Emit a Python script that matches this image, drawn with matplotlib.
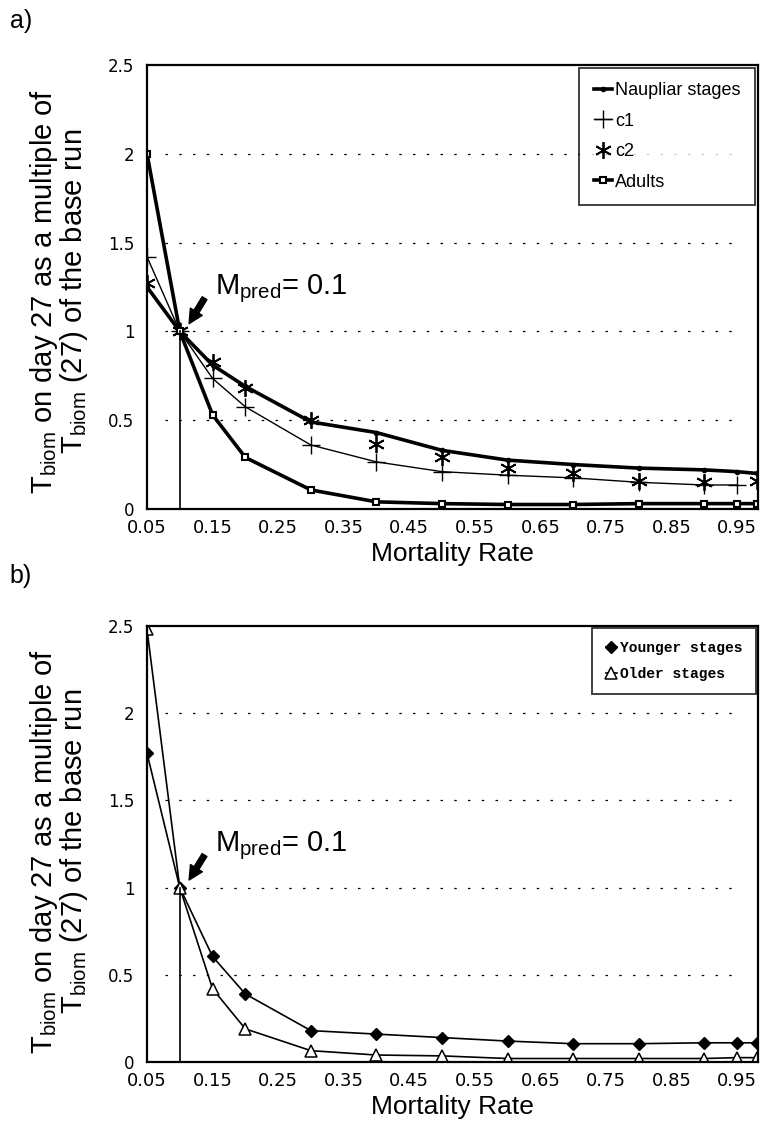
import numpy as np
import matplotlib.pyplot as plt

# mortality rates (last point sits at the right edge of the axes)
rate = [0.05, 0.1, 0.15, 0.2, 0.3, 0.4, 0.5, 0.6, 0.7, 0.8, 0.9, 0.95, 0.98]

# panel a
naupliar = [1.25, 1.0, 0.81, 0.69, 0.49, 0.43, 0.33, 0.275, 0.25, 0.23, 0.22, 0.21, 0.20]
c1 = [1.42, 1.0, 0.735, 0.575, 0.36, 0.265, 0.21, 0.19, 0.175, 0.15, 0.135, 0.135]
c2 = [1.27, 1.0, 0.83, 0.68, 0.50, 0.365, 0.29, 0.23, 0.20, 0.155, 0.15, None, 0.16]
adults = [2.0, 1.0, 0.53, 0.29, 0.107, 0.04, 0.03, 0.025, 0.025, 0.03, 0.03, 0.03, 0.03]

# panel b
younger = [1.77, 1.0, 0.605, 0.39, 0.18, 0.16, 0.14, 0.12, 0.105, 0.105, 0.11, 0.11, 0.11]
older = [2.48, 1.0, 0.42, 0.19, 0.065, 0.04, 0.035, 0.02, 0.02, 0.02, 0.02, 0.025, 0.025]

xticks = [0.05, 0.15, 0.25, 0.35, 0.45, 0.55, 0.65, 0.75, 0.85, 0.95]
yticks = [0, 0.5, 1, 1.5, 2, 2.5]
ytick_labels = ['0', '0.5', '1', '1.5', '2', '2.5']

plt.rcParams['font.family'] = ['Liberation Sans', 'DejaVu Sans']
plt.rcParams['mathtext.fontset'] = 'custom'
plt.rcParams['mathtext.rm'] = 'Liberation Sans'

fig = plt.figure(figsize=(7.64, 11.25), dpi=100)
ax1 = fig.add_axes([0.1924, 0.5476, 0.7997, 0.3947])
ax2 = fig.add_axes([0.1924, 0.0560, 0.7997, 0.3876])

ylab1 = '$\\mathrm{T_{biom}}$ on day 27 as a multiple of'
ylab2 = '$\\mathrm{T_{biom}}$ (27) of the base run'


def style_axes(ax, y0):
	ax.set_xlim(0.05, 0.982)
	ax.set_ylim(0, 2.5)
	ax.set_xticks(xticks)
	ax.set_xticklabels(['%.2f' % t for t in xticks], fontsize=13, family='DejaVu Sans')
	ax.set_yticks(yticks)
	ax.set_yticklabels(ytick_labels, fontsize=12, family='DejaVu Sans')
	ax.tick_params(axis='y', length=0, pad=9)
	ax.tick_params(axis='x', length=0, pad=7)
	for s in ax.spines.values():
		s.set_linewidth(1.6)
	for g in [0.5, 1.0, 1.5, 2.0]:
		ax.axhline(g, xmin=0.03, xmax=0.97, color='k', lw=0.9, ls=(0, (2, 9)), zorder=0)
	ax.set_xlabel('Mortality Rate', fontsize=19, labelpad=4)
	# two-line y label
	fig.text(0.058, y0, ylab1, rotation=90, fontsize=21, ha='center', va='center')
	fig.text(0.097, y0, ylab2, rotation=90, fontsize=21, ha='center', va='center')
	# marker line at the base run
	ax.plot([0.1, 0.1], [0, 1], color='k', lw=1.2)
	ax.annotate('', xy=(0.112, 1.03), xytext=(0.14, 1.2),
		arrowprops=dict(arrowstyle='simple,head_width=1.0,head_length=1.0,tail_width=0.4',
			color='k'))
	ax.text(0.153, 1.24, '$\\mathrm{M_{pred}}$= 0.1', fontsize=21, va='center')


# panel a
c2_x = [x for x, v in zip(rate, c2) if v is not None]
c2_y = [v for v in c2 if v is not None]
ax1.plot(rate, naupliar, color='k', lw=2.6, marker='o', ms=3, label='Naupliar stages')
ax1.plot(rate[:len(c1)], c1, color='k', lw=1.0, marker='+', ms=13, mew=1.0, label='c1')
ax1.plot(c2_x, c2_y, color='k', ls='none', marker=(6, 2, 0), ms=12, mew=1.3, label='c2')
ax1.plot(rate, adults, color='k', lw=2.6, marker='s', ms=5, mfc='white', mew=1.5, label='Adults')
style_axes(ax1, 0.741)
leg = ax1.legend(loc='upper right', fontsize=13, frameon=True, fancybox=False,
	edgecolor='k', handlelength=1.0, handletextpad=0.2, borderpad=0.8,
	labelspacing=0.75, borderaxespad=0.15)
leg.get_frame().set_linewidth(1.3)

# panel b
ax2.plot(rate, younger, color='k', lw=1.2, marker='D', ms=6, label='Younger stages')
ax2.plot(rate, older, color='k', lw=1.2, marker='^', ms=9, mfc='white', mew=1.1,
	label='Older stages')
style_axes(ax2, 0.243)
leg2 = ax2.legend(loc='upper right', frameon=True, fancybox=False,
	edgecolor='k', handlelength=0.8, handletextpad=0.2, borderpad=0.9,
	labelspacing=0.8, borderaxespad=0.15,
	prop={'family': 'Liberation Mono', 'weight': 'bold', 'size': 10.5})
leg2.get_frame().set_linewidth(1.3)

fig.text(0.013, 0.975, 'a)', fontsize=18)
fig.text(0.013, 0.482, 'b)', fontsize=18)

fig.savefig('out.png', dpi=100)
